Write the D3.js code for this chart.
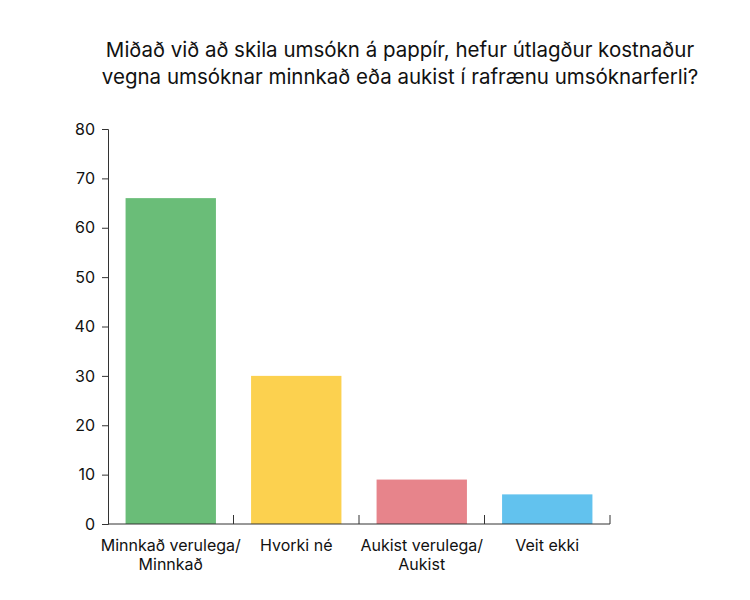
<!DOCTYPE html>
<html><head><meta charset="utf-8">
<script src="https://cdn.jsdelivr.net/npm/d3@7"></script>
<style>body{margin:0;background:#fff}text{font-family:"Inter","Noto Sans",sans-serif;fill:#111}</style>
</head><body><svg width="750" height="600"></svg>
<script>
var categories = [["Minnkað verulega/", "Minnkað"], ["Hvorki né"], ["Aukist verulega/", "Aukist"], ["Veit ekki"]];
var values = [66, 30, 9, 6];
var colors = ["#6abd78", "#fcd14f", "#e7848b", "#62c2ee"];
var yTicks = [0, 10, 20, 30, 40, 50, 60, 70, 80];
var title = ["Miðað við að skila umsókn á pappír, hefur útlagður kostnaður", "vegna umsóknar minnkað eða aukist í rafrænu umsóknarferli?"];

var svg = d3.select('svg');
var x0 = 108, x1 = 610;
var x = d3.scaleBand().domain(d3.range(values.length)).range([x0, x1]).paddingInner(0.28).paddingOuter(0.14);
var y = d3.scaleLinear().domain([0, 80]).range([524, 129]);

svg.selectAll('text.title').data(title).enter().append('text')
    .attr('x', 400).attr('y', (d, i) => 57 + i * 27)
    .attr('text-anchor', 'middle').style('font-size', '20.5px').text(d => d);

var yAxis = d3.axisLeft(y).tickValues(yTicks).tickSize(6).tickPadding(7);
var gy = svg.append('g').attr('transform', 'translate(' + x0 + ',0)').call(yAxis);
gy.selectAll('text').style('font-size', '16px');
gy.selectAll('path,line').attr('stroke', '#333');

svg.selectAll('rect').data(values).enter().append('rect')
    .attr('x', (d, i) => x(i)).attr('y', d => y(d))
    .attr('width', x.bandwidth()).attr('height', d => y(0) - y(d))
    .attr('fill', (d, i) => colors[i]);

svg.append('line').attr('x1', x0).attr('x2', x1).attr('y1', y(0)).attr('y2', y(0)).attr('stroke', '#333');
var step = x.step();
svg.selectAll('line.tk').data(d3.range(1, values.length + 1)).enter().append('line')
    .attr('x1', d => x0 + d * step).attr('x2', d => x0 + d * step)
    .attr('y1', y(0)).attr('y2', y(0) - 9).attr('stroke', '#333');

categories.forEach((lines, i) => {
    svg.selectAll(null).data(lines).enter().append('text')
        .attr('x', x(i) + x.bandwidth() / 2).attr('y', (d, j) => 551 + j * 19)
        .attr('text-anchor', 'middle').style('font-size', '16px').text(d => d);
});
</script></body></html>
